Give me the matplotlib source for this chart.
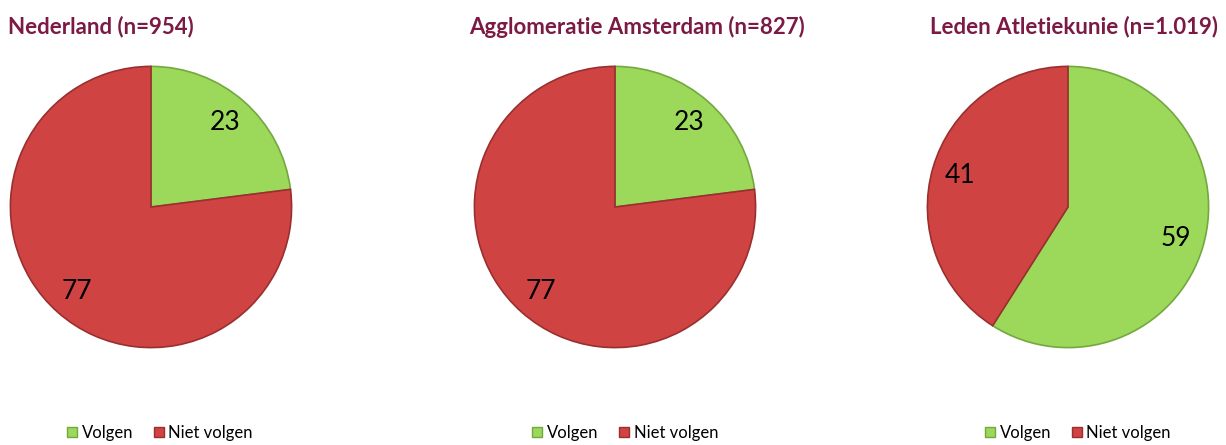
import matplotlib
matplotlib.use("Agg")
import matplotlib.pyplot as plt
from matplotlib.patches import Patch

plt.rcParams['font.family'] = ['Lato', 'DejaVu Sans']

titles = ['Nederland (n=954)', 'Agglomeratie Amsterdam (n=827)', 'Leden Atletiekunie (n=1.019)']
categories = ['Volgen', 'Niet volgen']
values = [[23, 77], [23, 77], [59, 41]]

colors = ['#9cd95b', '#cf4443']
edges = ['#74a83f', '#9a2f2f']
title_color = '#7b1a45'

W, H = 1226, 445
fig = plt.figure(figsize=(W / 100, H / 100), dpi=100)

centers = [151, 615, 1068]
title_x = [8, 469, 930]
legend_x = [160, 625, 1078]
R = 142

for i, vals in enumerate(values):
    cx, cy = centers[i], 207
    ax = fig.add_axes([(cx - R) / W, (H - cy - R) / H, 2 * R / W, 2 * R / H])
    wedges, texts = ax.pie(vals, labels=[str(v) for v in vals], colors=colors,
                           startangle=90, counterclock=False, labeldistance=0.8,
                           radius=1.0,
                           wedgeprops=dict(linewidth=1.2),
                           textprops=dict(fontsize=19, color='black', ha='center', va='center'))
    for w, ec in zip(wedges, edges):
        w.set_edgecolor(ec)
    ax.set_xlim(-1.01, 1.01)
    ax.set_ylim(-1.01, 1.01)
    ax.set_aspect('equal')
    ax.axis('off')

    fig.text(title_x[i] / W, 1 - 27 / H, titles[i], fontsize=16, fontweight='bold',
             color=title_color, ha='left', va='center')

    handles = [Patch(facecolor=c, edgecolor=e, label=l) for c, e, l in zip(colors, edges, categories)]
    fig.legend(handles=handles, loc='center', bbox_to_anchor=(legend_x[i] / W, 1 - 433 / H),
               ncol=2, frameon=False, fontsize=12, handlelength=0.6, handleheight=0.6,
               handletextpad=0.3, columnspacing=1.2)

fig.savefig('out.png', dpi=100)
